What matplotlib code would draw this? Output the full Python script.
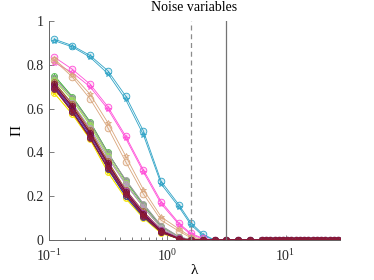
import numpy as np
import matplotlib
matplotlib.use('Agg')
import matplotlib.pyplot as plt
from matplotlib.colors import to_rgba

plt.rcParams['font.family'] = ['Liberation Serif', 'DejaVu Serif']
plt.rcParams['mathtext.fontset'] = 'custom'
plt.rcParams['mathtext.rm'] = 'Liberation Serif'
plt.rcParams['mathtext.it'] = 'Liberation Serif:italic'

# regularisation grid
lam = [0.111, 0.157, 0.222, 0.314, 0.444, 0.628, 0.888, 1.256, 1.58, 1.99, 2.51,
       3.16, 3.98, 5.01, 6.31,
       6.85, 7.44, 8.08, 8.77, 9.52, 10.3, 11.2, 12.2, 13.2, 14.4, 15.6, 16.9,
       18.4, 20.0, 21.7, 23.5, 25.5, 27.7]

# every series is exactly 0 from lambda = 3.16 onwards
tail = [0.0] * 22

blue_o = [0.917, 0.888, 0.843, 0.773, 0.658, 0.498, 0.267, 0.160, 0.079, 0.027, 0.0]
blue_s = [0.910, 0.882, 0.835, 0.760, 0.642, 0.480, 0.255, 0.150, 0.070, 0.020, 0.0]
mag_o = [0.835, 0.780, 0.712, 0.609, 0.475, 0.320, 0.175, 0.076, 0.030, 0.008, 0.0]
mag_s = [0.810, 0.765, 0.700, 0.598, 0.465, 0.310, 0.165, 0.070, 0.025, 0.005, 0.0]
tan_o = [0.820, 0.745, 0.645, 0.513, 0.358, 0.210, 0.090, 0.040, 0.010, 0.0, 0.0]
tan_s = [0.825, 0.755, 0.666, 0.536, 0.384, 0.230, 0.105, 0.050, 0.015, 0.003, 0.0]

green = [0.750, 0.655, 0.540, 0.400, 0.270, 0.160, 0.060, 0.012, 0.0, 0.0, 0.0]
gray = [0.740, 0.650, 0.535, 0.395, 0.275, 0.165, 0.065, 0.015, 0.0, 0.0, 0.0]
lgreen = [0.730, 0.640, 0.525, 0.385, 0.260, 0.150, 0.055, 0.010, 0.0, 0.0, 0.0]
lilac = [0.715, 0.625, 0.510, 0.375, 0.255, 0.150, 0.055, 0.010, 0.0, 0.0, 0.0]
brown = [0.720, 0.620, 0.500, 0.360, 0.230, 0.130, 0.045, 0.008, 0.0, 0.0, 0.0]
maroon = [0.710, 0.610, 0.490, 0.350, 0.220, 0.120, 0.040, 0.006, 0.0, 0.0, 0.0]
violet = [0.705, 0.605, 0.485, 0.345, 0.225, 0.125, 0.045, 0.007, 0.0, 0.0, 0.0]
purple = [0.700, 0.600, 0.480, 0.340, 0.210, 0.115, 0.040, 0.005, 0.0, 0.0, 0.0]
navy = [0.695, 0.590, 0.470, 0.325, 0.200, 0.105, 0.035, 0.004, 0.0, 0.0, 0.0]
yellow = [0.670, 0.575, 0.460, 0.310, 0.190, 0.100, 0.030, 0.005, 0.0, 0.0, 0.0]
darkred = [0.690, 0.585, 0.465, 0.330, 0.210, 0.110, 0.035, 0.005, 0.0, 0.0, 0.0]

lam_dash = 1.58
lam_solid = 3.16

fig = plt.figure(figsize=(3.74, 2.8), dpi=100)
ax = fig.add_axes([0.131, 0.143, 0.778, 0.782])


def draw(vals, col, mk, ms=4.8):
    ax.plot(lam, vals + tail, '-', color=col, lw=0.6, marker=mk, ms=ms,
            mec=col, mfc=to_rgba(col, 0.18), mew=0.6)


draw(blue_o, '#2fa3c6', 'o')
draw(blue_s, '#2fa3c6', '*', 3.8)
draw(mag_o, '#ff4fd8', 'o')
draw(mag_s, '#ff4fd8', '*', 3.8)
draw(tan_o, '#d9a67c', 'o')
draw(tan_s, '#d9a67c', '*', 3.8)

cluster = [(yellow, '#f5e400'), (green, '#4fb848'), (gray, '#9a9a9a'),
           (lgreen, '#9ee05a'), (lilac, '#b89cc0'), (brown, '#a86a3c'),
           (navy, '#30309a'), (violet, '#a040b0'), (purple, '#6a2a8a'),
           (maroon, '#7a1030'), (darkred, '#8e1b35')]
for vals, col in cluster:
    draw(vals, col, 'o', 4.3)
    draw(vals, col, '*', 3.5)

ax.axvline(lam_dash, color='0.55', lw=0.9, ls=(0, (4, 3)))
ax.axvline(lam_solid, color='0.45', lw=0.9)

ax.set_xscale('log')
ax.set_xlim(0.1, 28.8)
ax.set_ylim(0, 1)
ax.set_xticks([0.1, 1, 10])
ax.set_xticklabels(['$10^{-1}$', '$10^{0}$', '$10^{1}$'])
ax.set_yticks([0, 0.2, 0.4, 0.6, 0.8, 1])
ax.set_yticklabels(['0', '0.2', '0.4', '0.6', '0.8', '1'])
ax.spines['top'].set_visible(False)
ax.spines['right'].set_visible(False)
for s in ('left', 'bottom'):
    ax.spines[s].set_color('0.4')
    ax.spines[s].set_linewidth(0.7)
ax.tick_params(which='both', direction='in', colors='0.4', labelcolor='0.15',
               labelsize=10, width=0.6)
ax.tick_params(which='major', length=3.5)
ax.tick_params(which='minor', length=2)
ax.tick_params(axis='x', pad=6)
ax.tick_params(axis='y', pad=4)

ax.set_xlabel('λ', fontsize=11, labelpad=0)
ax.set_ylabel('Π', fontsize=11, labelpad=2)
ax.set_title('Noise variables', fontsize=10, pad=7)

fig.savefig('out.png', dpi=100)
